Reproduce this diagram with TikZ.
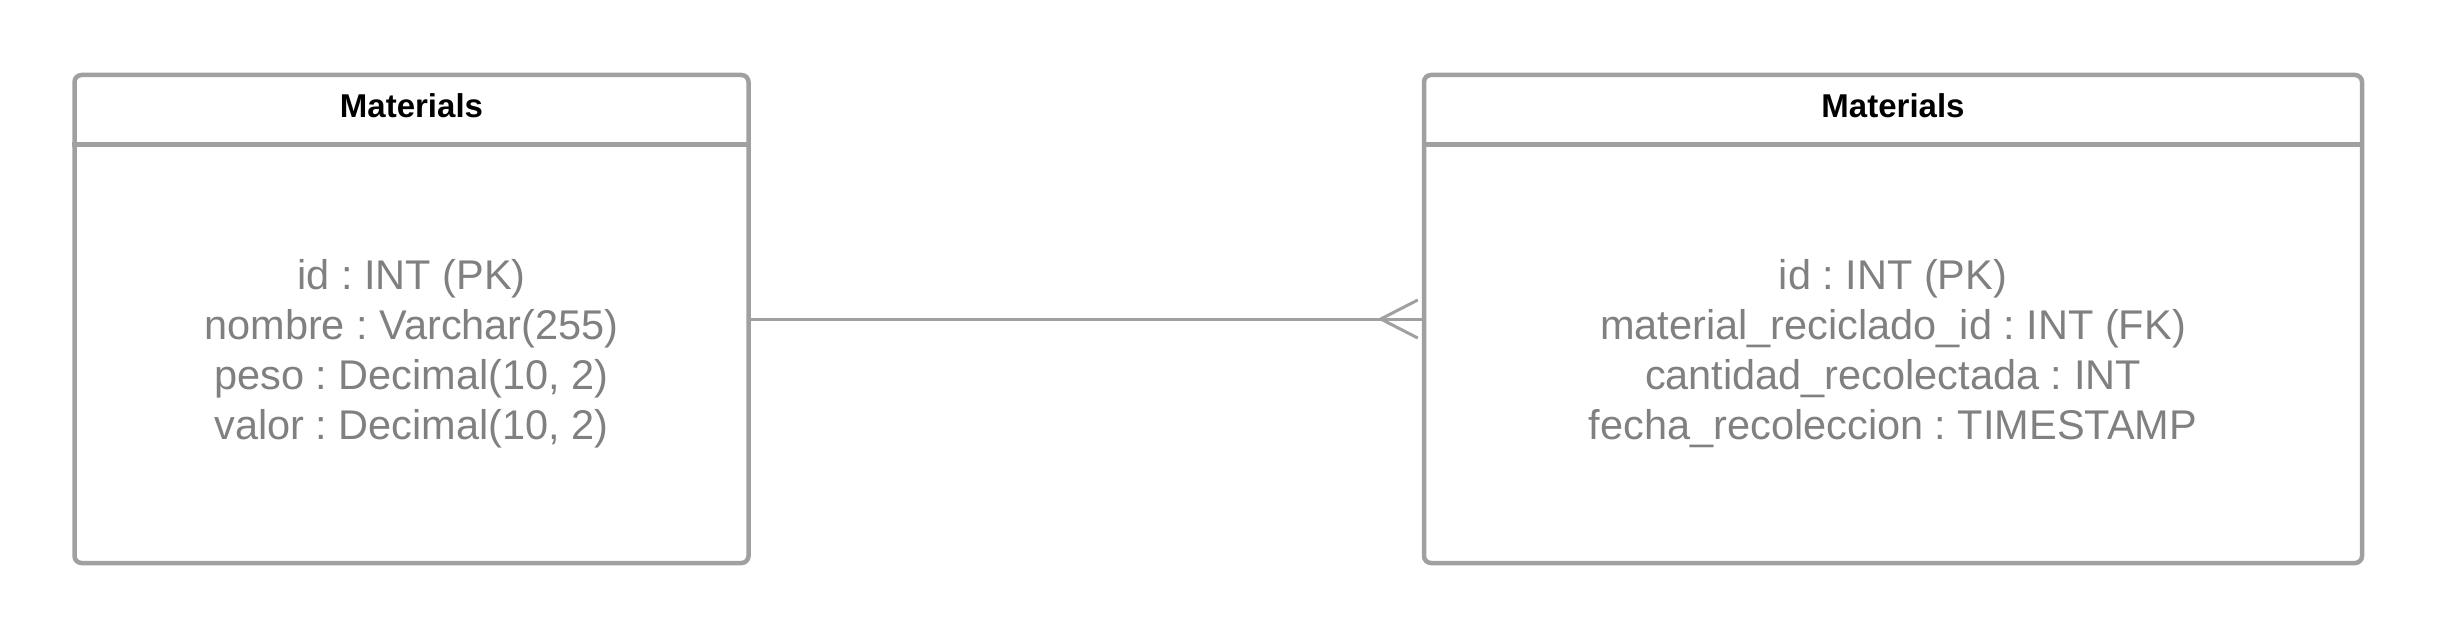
\documentclass[tikz,border=0pt]{standalone}
\usepackage{fontspec}
\setmainfont{Liberation Sans}
\frenchspacing
\definecolor{bordergray}{HTML}{A0A0A0}
\definecolor{textgray}{HTML}{808080}
\begin{document}
\begin{tikzpicture}[x=1pt,y=1pt,
  entity/.style={draw=bordergray, line width=4.5pt, rounded corners=7pt, inner sep=0pt},
  divider/.style={draw=bordergray, line width=4.5pt},
  header/.style={font=\fontsize{33}{38}\selectfont\bfseries, text=black, anchor=base, inner sep=0pt},
  field/.style={font=\fontsize{41.5}{48}\selectfont, text=textgray, anchor=base, inner sep=0pt},
  conn/.style={draw=bordergray, line width=3pt}]
\useasboundingbox (0,0) rectangle (2438,-639);
\node[entity, minimum width=674pt, minimum height=488pt] (L) at (411.5,-319) {};
\node[entity, minimum width=938pt, minimum height=488pt] (R) at (1893,-319) {};
\draw[divider] ([yshift=-72pt]L.north west) -- ([yshift=-72pt]L.north east);
\draw[divider] ([yshift=-72pt]R.north west) -- ([yshift=-72pt]R.north east);
\node[header] (LH) at (411.5,-118) {Materials};
\node[header] (RH) at (1893,-118) {Materials};
\node[field] (L1) at (411.5,-289.5) {id : INT (PK)};
\node[field] (L2) at (411.5,-339.5) {nombre : Varchar(255)};
\node[field] (L3) at (411.5,-389.5) {peso : Decimal(10, 2)};
\node[field] (L4) at (411.5,-439.5) {valor : Decimal(10, 2)};
\node[field] (R1) at (1893,-289.5) {id : INT (PK)};
\node[field] (R2) at (1893,-339.5) {material\_reciclado\_id : INT (FK)};
\node[field] (R3) at (1893,-389.5) {cantidad\_recolectada : INT};
\node[field] (R4) at (1893,-439.5) {fecha\_recoleccion : TIMESTAMP};
\draw[conn] (L) -- (R);
\coordinate (cf) at ([xshift=-41pt]R.west);
\draw[conn] (cf) -- ([xshift=-4pt,yshift=19pt]R.west);
\draw[conn] (cf) -- ([xshift=-4pt,yshift=-19pt]R.west);
\end{tikzpicture}
\end{document}
